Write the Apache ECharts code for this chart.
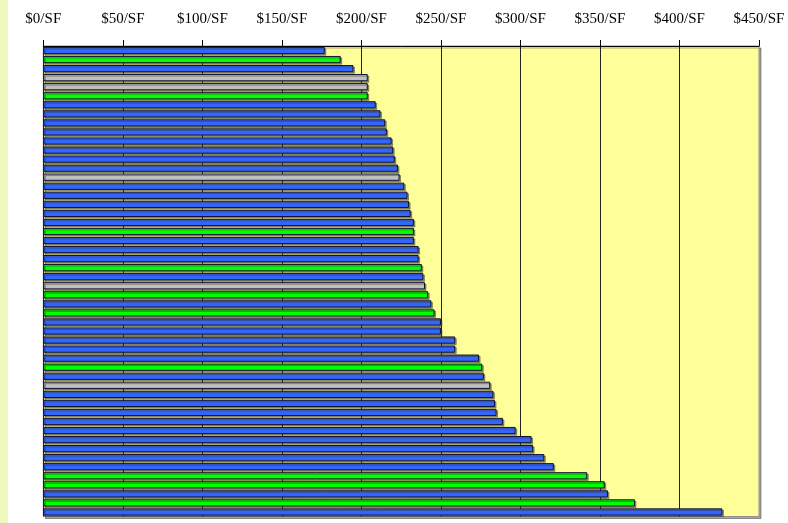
<!DOCTYPE html>
<html>
<head>
<meta charset="utf-8">
<style>html,body{margin:0;padding:0;background:#fff;}#c{width:788px;height:523px;}</style>
<script src="https://cdn.jsdelivr.net/npm/echarts@6/dist/echarts.min.js"></script>
</head>
<body>
<div id="c"></div>
<script>
// Price per square foot, one bar per property (top to bottom)
const categories = Array.from({length: 52}, (_, i) => 'Property ' + (i + 1));
const values = [177, 187, 195, 204, 204, 204, 209, 212, 215, 216, 219, 220, 221, 223, 224, 227, 229, 230, 231, 233, 233, 233, 236, 236, 238, 239, 240, 242, 244, 246, 250, 250, 259, 259, 274, 276, 277, 281, 283, 284, 285, 289, 297, 307, 308, 315, 321, 342, 353, 355, 372, 427];
// group of each bar: B = blue, G = green, Y = gray
const groups = ['B','G','B','Y','Y','G','B','B','B','B','B','B','B','B','Y','B','B','B','B','B','G','B','B','B','G','B','Y','G','B','G','B','B','B','B','B','G','B','Y','B','B','B','B','B','B','B','B','B','G','G','B','G','B'];
const tickMin = 0, tickMax = 450, tickStep = 50;

const groupColor = {B: '#3366ff', G: '#00ff00', Y: '#c0c0c0'};

const chart = echarts.init(document.getElementById('c'));
chart.setOption({
  animation: false,
  backgroundColor: '#ffffff',
  graphic: [{type: 'rect', left: 0, top: 0, shape: {width: 8, height: 523}, style: {fill: '#f0f8c0'}, z: -1}],
  grid: {
    left: 43.3, right: 29, top: 46, bottom: 6.5,
    show: true, backgroundColor: '#ffff99', borderColor: '#909090', borderWidth: 1,
    shadowColor: 'rgba(0,0,0,0.35)', shadowOffsetX: 2, shadowOffsetY: 2, shadowBlur: 0
  },
  xAxis: {
    type: 'value', position: 'top', min: tickMin, max: tickMax, interval: tickStep,
    axisLine: {show: true, lineStyle: {color: '#000', width: 1}},
    axisTick: {show: true, length: 6, inside: false, lineStyle: {color: '#000'}},
    axisLabel: {formatter: '${value}/SF', fontFamily: 'Liberation Serif', fontSize: 15, color: '#000', margin: 19},
    splitLine: {show: true, showMaxLine: false, lineStyle: {color: '#222', width: 1}}
  },
  yAxis: {
    type: 'category', data: categories, inverse: true,
    axisLine: {show: false}, axisTick: {show: false}, axisLabel: {show: false}, splitLine: {show: false}
  },
  series: [{
    type: 'bar',
    barCategoryGap: '20%',
    data: values.map((v, i) => ({
      value: v,
      itemStyle: {color: groupColor[groups[i]]}
    })),
    itemStyle: {
      borderColor: '#101030', borderWidth: 1,
      shadowColor: 'rgba(60,60,40,0.5)', shadowOffsetX: 1.5, shadowOffsetY: 1.5, shadowBlur: 0
    }
  }]
});
</script>
</body>
</html>
